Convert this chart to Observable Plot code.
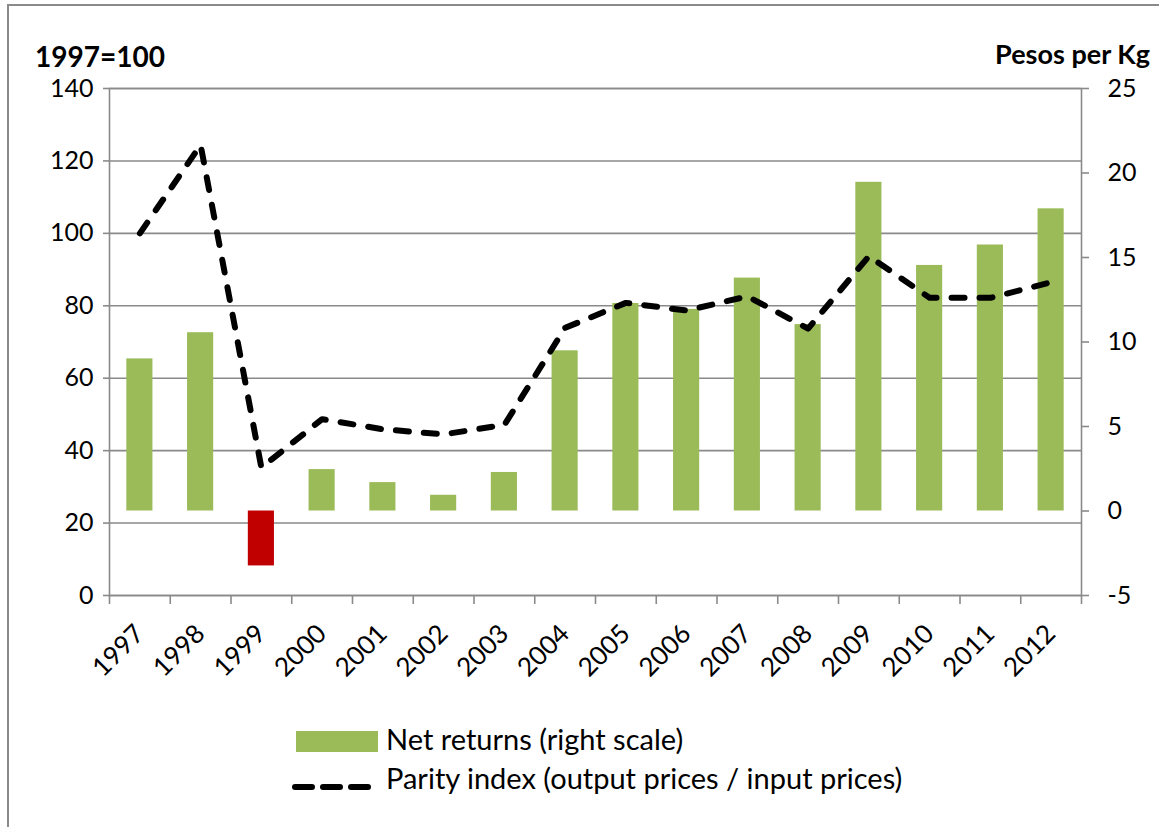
<!DOCTYPE html>
<html>
<head>
<meta charset="utf-8">
<script src="https://cdn.jsdelivr.net/npm/d3@7"></script>
<script src="https://cdn.jsdelivr.net/npm/@observablehq/plot@0.6"></script>
<style>
  body { margin: 0; background: #fff; font-family: Lato, "Open Sans", sans-serif; }
  #frame { position: absolute; left: 7px; top: 4px; width: 1200px; height: 900px; border-top: 2px solid #8a8a8a; border-left: 2px solid #8a8a8a; }
  #chart { position: absolute; left: 0; top: 0; }
  .title { position: absolute; font-weight: bold; font-size: 28px; line-height: 1; color: #000; white-space: nowrap; }
  .leg { position: absolute; font-size: 29px; line-height: 1; color: #000; white-space: nowrap; }
</style>
</head>
<body>
<div id="frame"></div>
<div id="chart"></div>
<div class="title" style="left:35px; top:42px;">1997=100</div>
<div class="title" style="right:9px; top:41px; font-size:27px; line-height:0.95;">Pesos per Kg</div>
<div style="position:absolute; left:296px; top:731px; width:82px; height:21px; background:#9BBB59;"></div>
<div class="leg" style="left:386px; top:724px;">Net returns (right scale)</div>
<svg style="position:absolute; left:288px; top:777px;" width="90" height="20">
  <line x1="7" y1="10" x2="83" y2="10" stroke="#000" stroke-width="6" stroke-linecap="round" stroke-dasharray="17,11"></line>
</svg>
<div class="leg" style="left:386px; top:763px;">Parity index (output prices / input prices)</div>
<script>
// ---- data ----
const years = ["1997","1998","1999","2000","2001","2002","2003","2004","2005","2006","2007","2008","2009","2010","2011","2012"];
const netReturns = [9.0, 10.55, -3.25, 2.45, 1.68, 0.93, 2.28, 9.48, 12.28, 11.93, 13.78, 11.03, 19.45, 14.53, 15.74, 17.88];
const parityIndex = [100, 124.4, 35.3, 48.7, 45.9, 44.5, 47.1, 73.9, 80.8, 78.7, 82.6, 73.7, 93.7, 82.2, 82.2, 86.5];
const leftTicks = [0, 20, 40, 60, 80, 100, 120, 140];
const rightTicks = [-5, 0, 5, 10, 15, 20, 25];

// right scale [-5, 25] mapped onto left scale [0, 140]
const toLeft = v => (v + 5) * 140 / 30;
const fromLeft = v => Math.round(v * 30 / 140 - 5);

const rows = years.map((year, i) => ({year, net: netReturns[i], parity: parityIndex[i]}));

const W = 1159, H = 700, mL = 109, mR = 78, mT = 88, mB = 105;
const halfStep = (W - mL - mR) / years.length / 2;
const gray = "#8a8a8a";

const chart = Plot.plot({
  width: W, height: H,
  marginLeft: mL, marginRight: mR, marginTop: mT, marginBottom: mB,
  style: {fontFamily: "Lato, 'Open Sans', sans-serif", fontSize: "25px", color: "#000", background: "transparent"},
  x: {type: "band", domain: years, paddingInner: 0.57, paddingOuter: 0.285, round: false, axis: null},
  y: {domain: [0, 140], axis: null},
  marks: [
    Plot.gridY(leftTicks, {stroke: gray, strokeOpacity: 1, strokeWidth: 1.6}),
    Plot.barY(rows, {x: "year", y1: () => toLeft(0), y2: d => toLeft(d.net), fill: d => d.net < 0 ? "#C00000" : "#9BBB59"}),
    Plot.line(rows, {x: "year", y: "parity", stroke: "#000", strokeWidth: 6, strokeDasharray: "13,15", strokeLinecap: "round", strokeLinejoin: "round"}),
    Plot.frame({stroke: gray, strokeWidth: 1.6}),
    Plot.axisY(leftTicks, {anchor: "left", tickSize: 6, tickPadding: 10, color: "#000", stroke: gray, strokeWidth: 1.6, label: null, fontSize: 25}),
    Plot.axisY(rightTicks.map(toLeft), {anchor: "right", tickSize: 7, tickPadding: 19, color: "#000", stroke: gray, strokeWidth: 1.6, label: null, fontSize: 25, tickFormat: d => String(fromLeft(d))}),
    Plot.axisX({tickSize: 9, dx: -halfStep, tickFormat: () => "", stroke: gray, strokeWidth: 1.6, label: null}),
    Plot.axisX([years[years.length - 1]], {tickSize: 9, dx: halfStep, tickFormat: () => "", stroke: gray, strokeWidth: 1.6, label: null}),
    Plot.axisX({tickSize: 0, tickPadding: 34, tickRotate: -45, color: "#000", label: null, fontSize: 26})
  ]
});
document.getElementById("chart").appendChild(chart);
</script>
</body>
</html>
